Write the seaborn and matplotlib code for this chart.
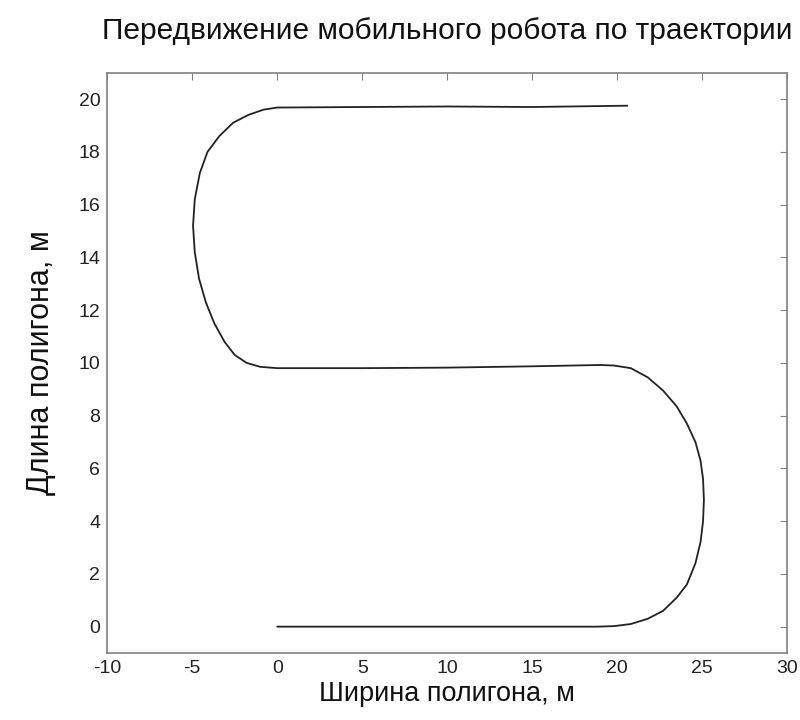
import numpy as np
import pandas as pd
import matplotlib
matplotlib.use("Agg")
import matplotlib.pyplot as plt
import seaborn as sns

# траектория робота, точки по порядку движения
x_m = [0, 5, 10, 15, 18.8, 19.8, 20.8, 21.8, 22.7, 23.5, 24.1, 24.6, 24.9, 25.05,
       25.1, 25.05, 24.9, 24.6, 24.1, 23.5, 22.7, 21.8, 20.8, 19.8, 19.0,
       15, 10, 5, 0, -1.0, -1.8, -2.5, -3.1, -3.7, -4.2, -4.6, -4.85, -4.95,
       -4.85, -4.55, -4.1, -3.4, -2.6, -1.7, -0.8, 0, 5, 10, 15, 20.6]
y_m = [0, 0, 0, 0, 0, 0.02, 0.1, 0.3, 0.6, 1.1, 1.6, 2.4, 3.2, 4.0,
       4.8, 5.6, 6.3, 7.0, 7.7, 8.35, 8.95, 9.45, 9.8, 9.9, 9.92,
       9.87, 9.82, 9.8, 9.8, 9.85, 10.0, 10.3, 10.8, 11.5, 12.3, 13.2, 14.2, 15.2,
       16.2, 17.2, 18.0, 18.6, 19.1, 19.4, 19.6, 19.68, 19.7, 19.72, 19.7, 19.75]

title = "Передвижение мобильного робота по траектории"
xlabel = "Ширина полигона, м"
ylabel = "Длина полигона, м"

df = pd.DataFrame({"x": x_m, "y": y_m})

sns.set_style("white")
plt.rcParams["font.family"] = ["Liberation Sans", "DejaVu Sans"]
plt.rcParams["axes.unicode_minus"] = False

fig = plt.figure(figsize=(8, 7.2), dpi=100)
ax = fig.add_axes([0.134, 0.093, 0.85, 0.806])

sns.lineplot(data=df, x="x", y="y", sort=False, estimator=None,
             color="#222222", linewidth=1.3, ax=ax)

ax.set_xlim(-10, 30)
ax.set_ylim(-1, 21)
ax.set_xticks(np.arange(-10, 31, 5))
ax.set_yticks(np.arange(0, 21, 2))

# рамка и засечки внутрь со всех сторон
for s in ax.spines.values():
    s.set_color("#808080")
    s.set_linewidth(1.2)
ax.tick_params(direction="in", top=True, right=True, length=5, pad=5,
               color="#808080", labelsize=14, labelcolor="#222222")

ax.set_title(title, fontsize=21.5, pad=24, color="#111111")
ax.set_xlabel(xlabel, fontsize=19.5, labelpad=3, color="#111111")
ax.set_ylabel(ylabel, fontsize=22, labelpad=16, color="#111111")

fig.savefig("out.png", dpi=100)
